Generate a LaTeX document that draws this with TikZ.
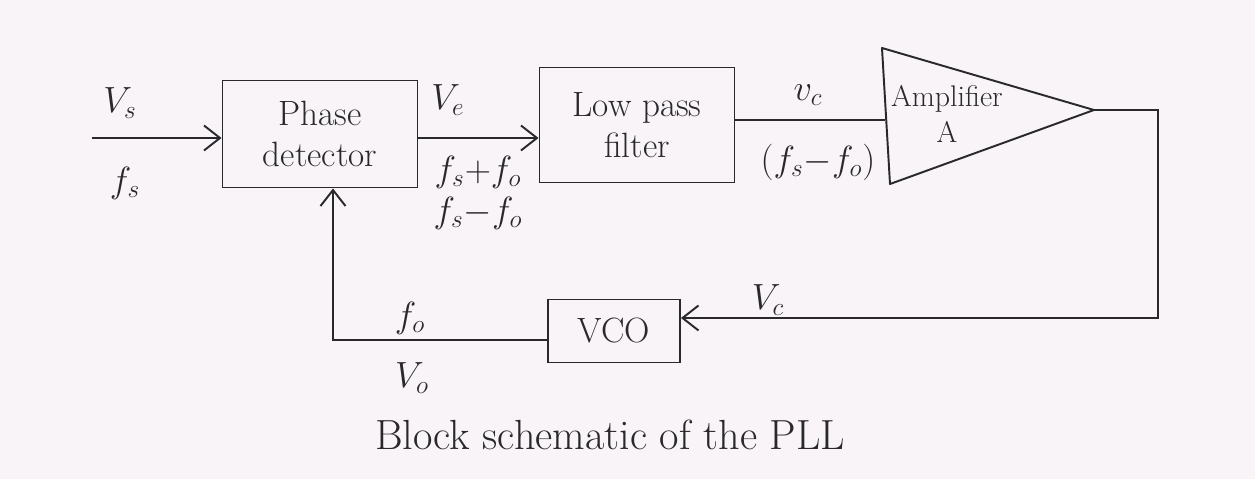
\documentclass[tikz,border=0pt]{standalone}
\usetikzlibrary{arrows.meta}
\definecolor{paper}{RGB}{248,244,248}
\definecolor{ink}{RGB}{40,40,45}
\begin{document}
\begin{tikzpicture}[x=0.02cm,y=-0.02cm,
  ink line/.style={draw=ink,line width=1.1pt},
  blk/.style={ink line,rectangle,align=center,inner sep=2pt,font=\fontsize{20}{23}\selectfont,text=ink},
  lbl/.style={font=\fontsize{20}{23}\selectfont,text=ink,inner sep=1pt},
  arr/.style={ink line,-{Straight Barb[length=3.2mm,width=5mm]}}]
\fill[paper] (0,0) rectangle (1255,479);
\useasboundingbox (0,0) rectangle (1255,479);
% blocks
\node[blk,minimum width=3.9cm,minimum height=2.14cm] (pd) at (320,134) {Phase\\detector};
\node[blk,minimum width=3.9cm,minimum height=2.3cm] (lpf) at (637,125) {Low pass\\filter};
\node[blk,minimum width=2.64cm,minimum height=1.26cm] (vco) at (614,331) {VCO};
% amplifier triangle
\coordinate (atl) at (882,48);
\coordinate (abl) at (890,184);
\coordinate (tip) at (1094,110);
\draw[ink line,line join=round] (atl) -- (tip) -- (abl) -- cycle;
\node[lbl,align=center,font=\fontsize{17}{20}\selectfont] (amp) at (947,114) {Amplifier\\A};
\coordinate (ampin) at (885,120);
% connectors
\coordinate (src) at (92,138);
\coordinate (rt) at (1158,110);
\coordinate (rb) at (1158,318);
\coordinate (lb) at (333,340);
\draw[arr] (src) -- (src -| pd.west);
\draw[arr] (pd.east |- 0,138) -- (lpf.west |- 0,138);
\draw[ink line] (lpf.east |- ampin) -- (ampin);
\draw[arr] (tip) -- (rt) -- (rb) -- (vco.east |- rb);
\draw[arr] (vco.west |- lb) -- (lb) -- (lb |- pd.south);
% labels
\node[lbl] (vs) at (120,103) {$V_s$};
\node[lbl] (fs) at (125,183) {$f_s$};
\node[lbl] (ve) at (448,100) {$V_e$};
\node[lbl] (fsum) at (478,172) {$f_s{+}f_o$};
\node[lbl] (fdiff) at (478,213) {$f_s{-}f_o$};
\node[lbl] (vc) at (808,95) {$v_c$};
\node[lbl] (fdc) at (818,162) {$(f_s{-}f_o)$};
\node[lbl] (vc2) at (768,300) {$V_c$};
\node[lbl] (fo) at (410,318) {$f_o$};
\node[lbl] (vo) at (412,378) {$V_o$};
\node[font=\fontsize{24}{28}\selectfont,text=ink] (cap) at (610,435) {Block schematic of the PLL};
\end{tikzpicture}
\end{document}
